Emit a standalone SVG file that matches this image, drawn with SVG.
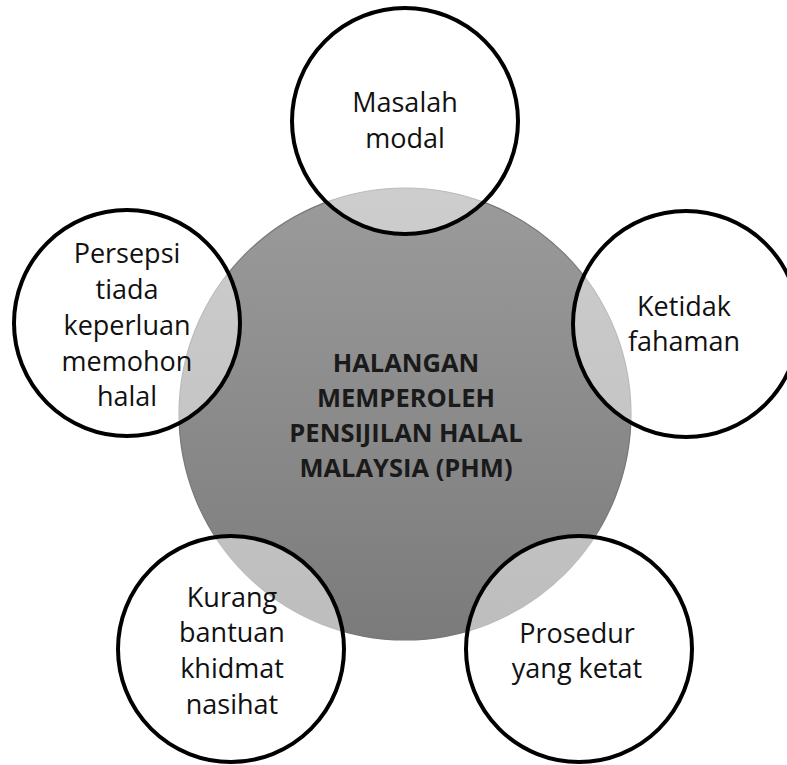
<svg xmlns="http://www.w3.org/2000/svg" width="787" height="765" viewBox="0 0 787 765">
<defs>
<linearGradient id="g" x1="0" y1="0" x2="0" y2="1">
<stop offset="0" stop-color="#9b9b9b"/>
<stop offset="1" stop-color="#7b7b7b"/>
</linearGradient>
<style>
.sat{fill:#ffffff;fill-opacity:0.5;stroke:#000;stroke-width:4}
.t{font-family:"Open Sans","Noto Sans",sans-serif;font-size:27px;fill:#111;text-anchor:middle}
.c{font-family:"Open Sans","Noto Sans",sans-serif;font-size:25.5px;font-weight:bold;fill:#1a1a1a;text-anchor:middle}
</style>
</defs>
<rect width="787" height="765" fill="#fff"/>
<g id="center">
<circle cx="405" cy="414" r="226" fill="url(#g)" stroke="#777" stroke-width="1.2"/>
</g>
<g id="connectors"></g>
<g id="n-top"><circle class="sat" cx="405" cy="121" r="113"/>
<text class="t" x="405" y="112">Masalah</text><text class="t" x="405" y="148">modal</text></g>
<g id="n-left"><circle class="sat" cx="127" cy="323" r="113"/>
<text class="t" x="127" y="263">Persepsi</text><text class="t" x="127" y="299">tiada</text><text class="t" x="127" y="335">keperluan</text><text class="t" x="127" y="371">memohon</text><text class="t" x="127" y="406">halal</text></g>
<g id="n-right"><circle class="sat" cx="686" cy="324" r="113"/>
<text class="t" x="684" y="316">Ketidak</text><text class="t" x="684" y="351">fahaman</text></g>
<g id="n-bl"><circle class="sat" cx="231" cy="649" r="113"/>
<text class="t" x="232" y="607">Kurang</text><text class="t" x="232" y="642">bantuan</text><text class="t" x="232" y="678">khidmat</text><text class="t" x="232" y="714">nasihat</text></g>
<g id="n-br"><circle class="sat" cx="579" cy="649" r="113"/>
<text class="t" x="577" y="643">Prosedur</text><text class="t" x="577" y="678">yang ketat</text></g>
<g id="center-label">
<text class="c" x="406" y="372">HALANGAN</text><text class="c" x="406" y="407">MEMPEROLEH</text><text class="c" x="406" y="442">PENSIJILAN HALAL</text><text class="c" x="406" y="477">MALAYSIA (PHM)</text>
</g>
</svg>
